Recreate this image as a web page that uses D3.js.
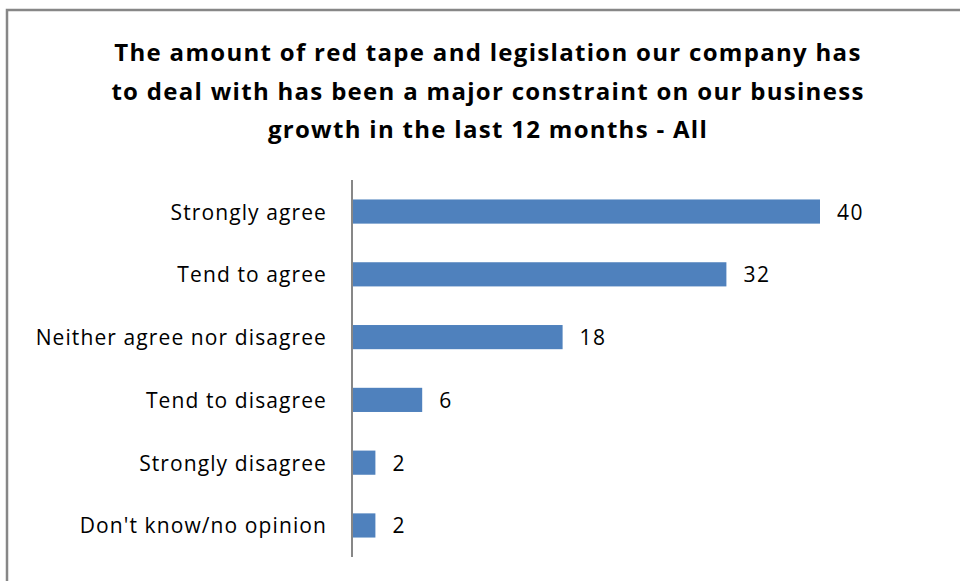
<!DOCTYPE html>
<html>
<head>
<meta charset="utf-8">
<script src="https://cdn.jsdelivr.net/npm/d3@7"></script>
<style>
  html, body { margin: 0; padding: 0; background: #fff; }
  svg { display: block; }
  text { font-family: "Open Sans", Lato, sans-serif; }
</style>
</head>
<body>
<svg id="chart" width="960" height="581"></svg>
<script>
// Survey responses (% of all respondents)
const categories = [
  "Strongly agree",
  "Tend to agree",
  "Neither agree nor disagree",
  "Tend to disagree",
  "Strongly disagree",
  "Don't know/no opinion"
];
const values = [40, 32, 18, 6, 2, 2];
const titleLines = [
  "The amount of red tape and legislation our company has",
  "to deal with has been a major constraint on our business",
  "growth in the last 12 months - All"
];

const svg = d3.select("#chart");
const W = 960, H = 581;
const FONT = "'Open Sans', Lato, sans-serif";

// outer frame (open on right and bottom edges of the canvas)
svg.append("path")
  .attr("d", `M7,${H + 2} V10 H${W + 2}`)
  .attr("fill", "none")
  .attr("stroke", "#878787")
  .attr("stroke-width", 2.5);

// title
svg.append("g")
  .selectAll("text")
  .data(titleLines)
  .join("text")
  .attr("x", 488)
  .attr("y", (d, i) => 61 + i * 38.5)
  .attr("text-anchor", "middle")
  .attr("font-size", 24)
  .attr("font-weight", "bold")
  .attr("letter-spacing", 1.3)
  .attr("fill", "#000")
  .text(d => d);

const x0 = 352, plotTop = 180, plotBottom = 557;

const x = d3.scaleLinear().domain([0, 40]).range([x0, 820]);
const y = d3.scaleBand()
  .domain(categories)
  .range([plotTop, plotBottom])
  .paddingInner(0.615)
  .paddingOuter(0.31);

// bars
svg.append("g")
  .selectAll("rect")
  .data(values)
  .join("rect")
  .attr("x", x(0))
  .attr("y", (d, i) => y(categories[i]))
  .attr("width", d => x(d) - x(0))
  .attr("height", y.bandwidth())
  .attr("fill", "#4f81bd");

// category axis
const axis = d3.axisLeft(y).tickSize(0).tickPadding(25);
const gAxis = svg.append("g")
  .attr("transform", `translate(${x0},0)`)
  .call(axis);
gAxis.select(".domain")
  .attr("d", `M0,${plotTop}V${plotBottom}`)
  .attr("stroke", "#878787")
  .attr("stroke-width", 2);
gAxis.selectAll(".tick text")
  .attr("font-family", FONT)
  .attr("font-size", 21)
  .attr("letter-spacing", 1.1)
  .attr("dy", "0.38em")
  .attr("fill", "#000");

// value labels
svg.append("g")
  .selectAll("text")
  .data(values)
  .join("text")
  .attr("x", d => x(d) + 17)
  .attr("y", (d, i) => y(categories[i]) + y.bandwidth() / 2)
  .attr("dy", "0.38em")
  .attr("font-size", 21)
  .attr("letter-spacing", 1.5)
  .attr("fill", "#000")
  .text(d => d);
</script>
</body>
</html>
